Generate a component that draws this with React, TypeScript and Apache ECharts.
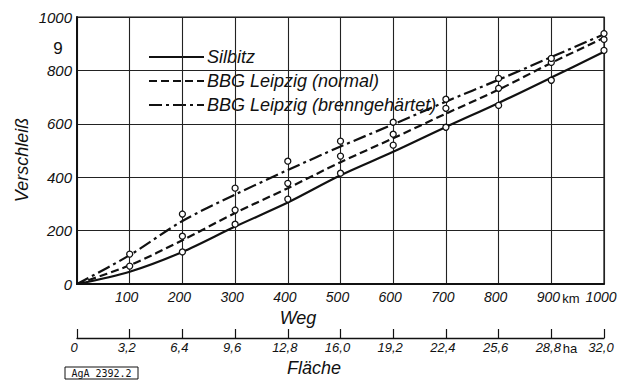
import React, { useEffect, useRef } from "react";
import * as echarts from "echarts";

// Weg in km
const wegKm = [0, 100, 200, 300, 400, 500, 600, 700, 800, 900, 1000];
// fitted curves (Verschleiß)
const silbitzCurve = [0, 46, 120, 215, 305, 407, 495, 588, 678, 773, 870];
const normalCurve = [0, 70, 164, 266, 359, 456, 546, 638, 728, 828, 922];
const hartCurve = [0, 108, 236, 335, 427, 515, 598, 683, 765, 850, 935];
// measured points (null = none)
const silbitzPts = [null, null, 120, 224, 318, 415, 520, 587, 669, 763, 875];
const normalPts = [null, 67, 179, 277, 377, 479, 561, 658, 733, 830, 916];
const hartPts = [null, 112, 262, 359, 460, 535, 606, 692, 770, 845, 938];

const yTicks = [0, 200, 400, 600, 800, 1000];
const flaecheFactor = 0.032; // ha per km

const legendNames = ["Silbitz", "BBG Leipzig (normal)", "BBG Leipzig (brenngehärtet)"];

const FONT = "Liberation Sans";
const INK = "#111";

export default function App() {
  const ref = useRef<HTMLDivElement>(null);
  useEffect(() => {
    if (!ref.current) return;
    const chart = echarts.init(ref.current, undefined, { renderer: "svg" });
    const pair = (ys: (number | null)[]) => wegKm.map((x, i) => [x, ys[i]]).filter((p) => p[1] !== null);
    const lbl = { fontFamily: FONT, fontStyle: "italic" as const, fontSize: 14, color: INK };
    const dashes: (number[] | "solid")[] = ["solid", [8, 4], [13, 4, 3, 4]];
    const curves = [silbitzCurve, normalCurve, hartCurve];
    const pts = [silbitzPts, normalPts, hartPts];
    const series: any[] = [];
    curves.forEach((c, i) => {
      series.push({
        type: "line",
        name: legendNames[i],
        data: pair(c),
        smooth: 0.3,
        showSymbol: false,
        symbol: "none",
        lineStyle: { color: INK, width: 2.2, type: dashes[i] },
        z: 3,
      });
      series.push({
        type: "scatter",
        data: pair(pts[i]),
        symbol: "circle",
        symbolSize: 6,
        itemStyle: { color: "#fff", borderColor: INK, borderWidth: 1.3, opacity: 1 },
        z: 5,
      });
    });
    const legendY = [57, 81, 105];
    const graphic: any[] = [];
    legendNames.forEach((n, i) => {
      graphic.push({
        type: "line",
        shape: { x1: 149, y1: legendY[i], x2: 204, y2: legendY[i] },
        style: { stroke: INK, lineWidth: 2.2, lineDash: dashes[i] === "solid" ? null : dashes[i] },
      });
      graphic.push({
        type: "text",
        x: 207,
        y: legendY[i],
        style: { text: n, font: `italic 18px "${FONT}"`, fill: INK, textVerticalAlign: "middle" },
      });
    });
    graphic.push(
      { type: "text", x: 58, y: 48, style: { text: "9", font: `17px "${FONT}"`, fill: INK, textAlign: "center", textVerticalAlign: "middle" } },
      { type: "text", x: 22, y: 160, rotation: Math.PI / 2, style: { text: "Verschleiß", font: `italic 18px "${FONT}"`, fill: INK, textAlign: "center", textVerticalAlign: "middle" } },
      { type: "text", x: 298, y: 318, style: { text: "Weg", font: `italic 18px "${FONT}"`, fill: INK, textAlign: "center", textVerticalAlign: "middle" } },
      { type: "text", x: 314, y: 368, style: { text: "Fläche", font: `italic 18px "${FONT}"`, fill: INK, textAlign: "center", textVerticalAlign: "middle" } },
      { type: "text", x: 571, y: 298, style: { text: "km", font: `13px "${FONT}"`, fill: INK, textAlign: "center", textVerticalAlign: "middle" } },
      { type: "text", x: 570, y: 348, style: { text: "ha", font: `13px "${FONT}"`, fill: INK, textAlign: "center", textVerticalAlign: "middle" } },
      { type: "rect", shape: { x: 65, y: 367, width: 73, height: 12 }, style: { fill: "none", stroke: INK, lineWidth: 1 } },
      { type: "text", x: 101.5, y: 373, style: { text: "AgA 2392.2", font: `10px "DejaVu Sans Mono"`, fill: INK, textAlign: "center", textVerticalAlign: "middle" } }
    );
    chart.setOption({
      animation: false,
      grid: { left: 77, right: 31, top: 17, bottom: 96, show: true, borderColor: INK, borderWidth: 1.2, backgroundColor: "transparent" },
      xAxis: [
        {
          type: "value",
          min: 0,
          max: 1000,
          interval: 100,
          position: "bottom",
          axisLine: { show: true, onZero: false, lineStyle: { color: INK, width: 2.2 } },
          axisTick: { show: false },
          splitLine: { show: true, lineStyle: { color: "#222", width: 1.1 } },
          axisLabel: {
            ...lbl,
            margin: 6,
            padding: [0, 6, 0, 0],
            formatter: (v: number) => (v === 0 ? "" : String(v)),
          },
        },
        {
          type: "value",
          min: 0,
          max: 1000,
          interval: 100,
          position: "bottom",
          offset: 54,
          axisLine: { show: true, onZero: false, lineStyle: { color: INK, width: 1.3 } },
          axisTick: { show: true, inside: true, length: 9, lineStyle: { color: INK, width: 1.2 } },
          splitLine: { show: false },
          axisLabel: {
            ...lbl,
            fontSize: 13,
            margin: 3,
            padding: [0, 6, 0, 0],
            formatter: (v: number) => (v === 0 ? "0" : (v * flaecheFactor).toFixed(1).replace(".", ",")),
          },
        },
      ],
      yAxis: {
        type: "value",
        min: yTicks[0],
        max: yTicks[yTicks.length - 1],
        interval: 200,
        axisLine: { show: true, lineStyle: { color: INK, width: 2 } },
        axisTick: { show: false },
        splitLine: { show: true, lineStyle: { color: "#222", width: 1.1 } },
        axisLabel: { ...lbl, fontSize: 15, margin: 5, formatter: (v: number) => String(v) },
      },
      series,
      graphic,
    });
    return () => chart.dispose();
  }, []);
  return <div ref={ref} style={{ position: "fixed", left: 0, top: 0, width: 635, height: 380, background: "#fff" }} />;
}
